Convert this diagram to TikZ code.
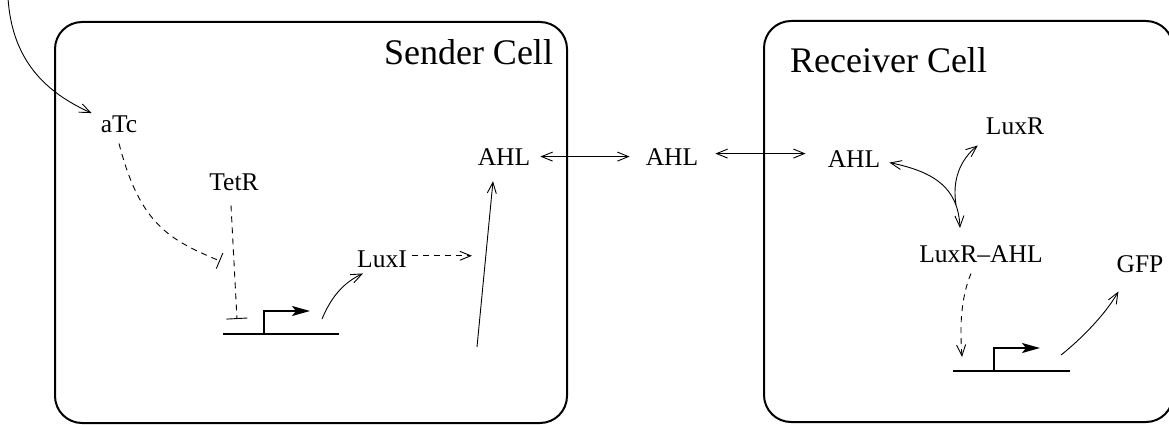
\documentclass[tikz,border=0pt]{standalone}
\usepackage{fontspec}
\setmainfont{Liberation Serif}
\usepackage{tikz}
\usetikzlibrary{arrows.meta, positioning, calc}
\tikzset{
  figcell/.style={draw=black, line width=2pt, rounded corners=27pt},
  figtitle/.style={font=\fontsize{36}{42}\selectfont, inner sep=0pt, anchor=base},
  figlabel/.style={font=\fontsize{25.5}{30}\selectfont, inner sep=0pt, anchor=base},
  figarrow/.style={-{Straight Barb[length=11pt, width=9pt]}, line width=0.9pt, black},
  figboth/.style={{Straight Barb[length=11pt, width=9pt]}-{Straight Barb[length=11pt, width=9pt]}, line width=0.9pt, black},
  figstop/.style={-{Bar[width=#1, line width=0.9pt]}, line width=0.9pt, dash pattern=on 6pt off 5pt},
  figdashed/.style={figarrow, dash pattern=on 6pt off 5pt},
  figdna/.style={line width=2pt},
  figprom/.style={line width=2pt, -{Stealth[length=18pt, width=10pt, inset=4pt]}},
}

\begin{document}
\begin{tikzpicture}[x=1pt, y=-1pt]
  \useasboundingbox (0,0) rectangle (1169,425);
  \clip (0,0) rectangle (1169,425);
  % cells
  \draw[figcell] (55,22) rectangle (567,423);
  \draw[figcell] (764,21) rectangle (1173,422);
  \node[figtitle] (sendertitle) at (468.5,65) {Sender Cell};
  \node[figtitle] (receivertitle) at (888.5,73) {Receiver Cell};
  % species
  \node[figlabel] (atc) at (119,132) {aTc};
  \node[figlabel] (tetr) at (234,190) {TetR};
  \node[figlabel] (luxi) at (382,267) {LuxI};
  \node[figlabel] (ahlS) at (504,165) {AHL};
  \node[figlabel] (ahlM) at (672,165) {AHL};
  \node[figlabel] (ahlR) at (854,167) {AHL};
  \node[figlabel] (luxr) at (1015,135) {LuxR};
  \node[figlabel] (luxrahl) at (981,262) {LuxR--AHL};
  \node[figlabel] (gfp) at (1140,272) {GFP};
  \coordinate (light) at (8,-2);
  \coordinate (atcstop) at (220,261);
  \coordinate (tetrstop) at (237,319);
  \coordinate (geneS) at (223,334);
  \coordinate (txS) at (322,319);
  \coordinate (synth) at (477,347);
  \coordinate (bind) at (956,205);
  \coordinate (geneR) at (953,371);
  \coordinate (txR) at (1061,355);
  % sender
  \draw[figarrow] (light) .. controls (12,60) and (45,92) .. ([xshift=-9pt, yshift=2pt]atc.north west);
  \draw[figstop=17pt] ([yshift=-11pt]atc.south) .. controls (140,225) and (170,240) .. (atcstop);
  \draw[figstop=21pt] ([xshift=-3pt, yshift=-15pt]tetr.south) -- (tetrstop);
  \draw[figdna] (geneS) -- ++(116,0);
  \draw[figprom] ([xshift=41pt]geneS) |- ++(46,-23);
  \draw[figarrow] (txS) .. controls (332,295) and (345,282) .. ([xshift=6pt, yshift=-6pt]luxi.south west);
  \draw[figdashed] ([xshift=5pt, yshift=3pt]luxi.east) -- ++(60,0);
  \draw[figarrow] (synth) -- ([xshift=-11pt, yshift=-16pt]ahlS.south);
  % diffusion
  \draw[figboth] ([xshift=10pt]ahlS.east) -- ([xshift=-16pt]ahlM.west);
  \draw[figboth] ([xshift=17pt, yshift=3pt]ahlM.east) -- ([xshift=-22pt, yshift=5pt]ahlR.west);
  % receiver
  \draw[figboth] ([xshift=9pt, yshift=-4pt]ahlR.east) .. controls (935,172) and (958,188) .. ([xshift=-21pt, yshift=17pt]luxrahl.north);
  \draw[figarrow] (bind) .. controls (952,180) and (960,160) .. ([xshift=-8pt, yshift=-10pt]luxr.south west);
  \draw[figdashed] ([xshift=-10pt, yshift=-11pt]luxrahl.south) .. controls (960,300) and (960,330) .. ([xshift=9pt, yshift=14pt]geneR);
  \draw[figdna] (geneR) -- ++(117,0);
  \draw[figprom] ([xshift=41pt]geneR) |- ++(46,-23);
  \draw[figarrow] (txR) .. controls (1080,340) and (1105,315) .. ([xshift=2pt, yshift=-19pt]gfp.south west);
\end{tikzpicture}
\end{document}
